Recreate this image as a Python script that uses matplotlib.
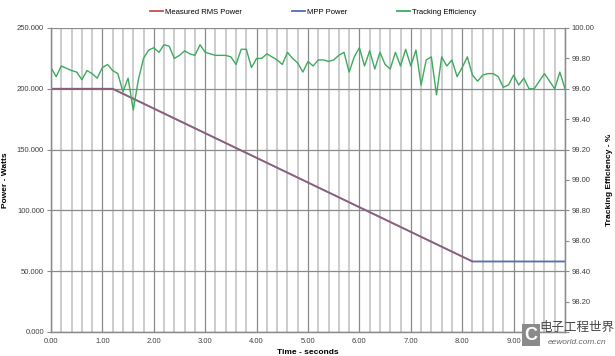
import numpy as np
import matplotlib.pyplot as plt
from matplotlib.lines import Line2D
from matplotlib.ticker import MultipleLocator, FormatStrFormatter, FuncFormatter

# ---------------------------------------------------------------
# Data
# ---------------------------------------------------------------
# power curves (breakpoints), watts
t_rms = [0.0, 1.2, 8.2]
p_rms = [200.0, 200.0, 58.0]
t_mpp = [0.0, 1.2, 8.2, 10.0]
p_mpp = [200.0, 200.0, 58.0, 58.0]

# tracking efficiency, sampled every 0.1 s from 0 to 10 s, percent
t_eff = np.linspace(0, 10, 101)
eff = [99.74, 99.68, 99.75, 99.735, 99.72, 99.71, 99.66, 99.72, 99.70, 99.67,
       99.74, 99.76, 99.72, 99.70, 99.58, 99.67, 99.46, 99.66, 99.80, 99.855,
       99.87, 99.84, 99.89, 99.88, 99.80, 99.82, 99.85, 99.83, 99.82, 99.89,
       99.84, 99.83, 99.82, 99.82, 99.82, 99.81, 99.76, 99.86, 99.86, 99.74,
       99.80, 99.80, 99.83, 99.81, 99.79, 99.76, 99.84, 99.80, 99.77, 99.71,
       99.78, 99.75, 99.79, 99.79, 99.78, 99.79, 99.82, 99.84, 99.71, 99.81,
       99.87, 99.75, 99.85, 99.73, 99.84, 99.76, 99.73, 99.84, 99.75, 99.86,
       99.75, 99.855, 99.625, 99.79, 99.81, 99.56, 99.81, 99.75, 99.79, 99.68,
       99.74, 99.81, 99.69, 99.65, 99.69, 99.70, 99.70, 99.68, 99.61, 99.625,
       99.69, 99.625, 99.67, 99.60, 99.60, 99.65, 99.70, 99.65, 99.60, 99.71,
       99.60]

# ---------------------------------------------------------------
# Figure
# ---------------------------------------------------------------
plt.rcParams['font.family'] = ['Liberation Sans', 'Noto Sans CJK SC']
plt.rcParams['font.size'] = 5.5

fig = plt.figure(figsize=(6.15, 3.56), dpi=100)
ax = fig.add_axes([51/615, 1 - 332/356, 514/615, 304/356])
ax2 = ax.twinx()

red = '#C0504D'
blue = '#4F6FB0'
green = '#3DAA5E'

# the two power traces overlap, so red is drawn see-through over blue
ax.plot(t_mpp, p_mpp, color=blue, lw=1.3)
ax.plot(t_rms, p_rms, color=red, lw=1.3, alpha=0.55)
ax2.plot(t_eff, eff, color=green, lw=1.0)

ax.set_xlim(0, 10)
ax.set_ylim(0, 250)
ax2.set_ylim(98.0, 100.0)

ax.xaxis.set_major_locator(MultipleLocator(1))
ax.xaxis.set_minor_locator(MultipleLocator(0.2))
# the last x label and the lowest right label sit under the watermark
ax.xaxis.set_major_formatter(FuncFormatter(lambda v, p: '' if v > 9.5 else '%.2f' % v))
ax.yaxis.set_major_locator(MultipleLocator(50))
ax.yaxis.set_major_formatter(FormatStrFormatter('%.3f'))
ax2.yaxis.set_major_locator(MultipleLocator(0.2))
ax2.yaxis.set_major_formatter(FuncFormatter(lambda v, p: '' if v < 98.1 else '%.2f' % v))

ax.grid(True, which='minor', axis='x', color='#c8c8c8', lw=1.3)
ax.grid(True, which='major', axis='x', color='#8a8a8a', lw=0.9)
ax.grid(True, which='major', axis='y', color='#8a8a8a', lw=0.9)
ax.set_axisbelow(True)

for a in (ax, ax2):
    a.spines['top'].set_visible(False)
    for s in ('left', 'right', 'bottom'):
        a.spines[s].set_color('#8a8a8a')
        a.spines[s].set_linewidth(0.9)

ax.tick_params(axis='x', which='both', length=0, pad=4, colors='#404040')
ax.tick_params(axis='y', length=3, color='#8a8a8a', pad=2, labelcolor='#404040')
ax2.tick_params(axis='y', length=3, color='#8a8a8a', pad=2, labelcolor='#404040')

ax.set_xlabel('Time - seconds', fontweight='bold', fontsize=6, labelpad=3)
ax.set_ylabel('Power - Watts', fontweight='bold', fontsize=6, labelpad=6)
ax2.set_ylabel('Tracking Efficiency - %', fontweight='bold', fontsize=6,
               rotation=90, labelpad=8)

handles = [Line2D([], [], color=red, lw=1.3),
           Line2D([], [], color=blue, lw=1.3),
           Line2D([], [], color=green, lw=1.3)]
fig.legend(handles=handles,
           labels=['Measured RMS Power', 'MPP Power', 'Tracking Efficiency'],
           loc='center', bbox_to_anchor=(313/615, 1 - 12/356), ncol=3,
           frameon=False, fontsize=5.5, handlelength=1.8, handletextpad=0.2,
           columnspacing=6.5)

# watermark in the lower-right corner
fig.text(531/615, 1 - 335/356, 'C', fontsize=13, fontweight='bold', color='white',
         ha='center', va='center',
         bbox=dict(boxstyle='square,pad=0.15', fc='#8a8a8a', ec='none'))
fig.text(577/615, 1 - 328/356, '电子工程世界', fontsize=9, color='#444444',
         ha='center', va='center')
fig.text(577/615, 1 - 342/356, 'eeworld.com.cn', fontsize=6, color='#666666',
         style='italic', ha='center', va='center')

fig.savefig('out.png', dpi=100)
